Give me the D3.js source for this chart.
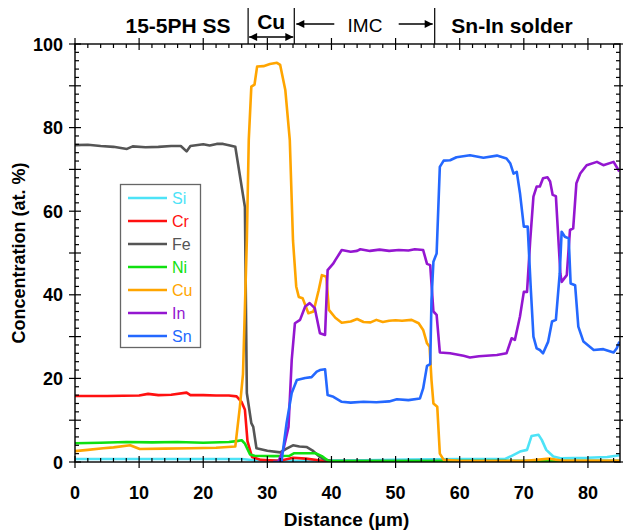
<!DOCTYPE html>
<html>
<head>
<meta charset="utf-8">
<script src="https://cdn.jsdelivr.net/npm/d3@7.9.0/dist/d3.min.js"></script>
<style>
  body { margin: 0; background: #fff; }
  svg { display: block; font-family: "Liberation Sans", Arial, Helvetica, sans-serif; }
</style>
</head>
<body>
<svg id="chart" width="623" height="530"></svg>
<script>
// Concentration profiles: [distance µm, at. %]
const siData = [[0,0.7],[10,0.7],[20,0.7],[26,0.7],[28,0.4],[35,0.3],[45,0.4],[52,0.6],[60,0.7],[67,0.7],[67.9,1.3],[69.4,2.5],[70.5,2.9],[71.2,6.2],[72.3,6.5],[72.8,5.3],[73.5,2.9],[74.6,1.3],[75.7,0.9],[80,1.0],[83,1.2],[85,1.6]];
const crData = [[0,15.8],[5,15.8],[10,15.9],[11.4,16.3],[13,16],[15,16.1],[17.4,16.6],[18,16],[20,16],[22,15.9],[24,15.9],[25.2,15.7],[26,14.3],[26.5,12.5],[26.9,5],[27.6,1.2],[29,0.5],[32,0.3],[34,1],[36,0.8],[38,0.4],[40,0.1],[85,0.1]];
const feData = [[0,75.8],[2,75.9],[4,75.6],[6,75.4],[8.1,74.9],[9,75.5],[11,75.3],[13,75.4],[15,75.6],[16.5,75.6],[17.4,74.3],[18,75.6],[20,76.0],[21,75.7],[22.1,76.1],[23.1,76.1],[24,75.8],[25,75.4],[26.5,61],[26.8,16.5],[27.5,9.3],[27.8,8.4],[28.3,3.3],[30,2.7],[32,2.3],[33,3.2],[34,4],[35,3.7],[36.1,3.6],[37,2.8],[38.2,1.2],[39,0.5],[40,0.3],[45,0.2],[85,0.2]];
const niData = [[0,4.5],[4,4.6],[8,4.8],[12,4.7],[16,4.8],[20,4.6],[24,4.8],[25.2,5.0],[26,5.2],[26.5,4.4],[27.3,1.8],[28,1.5],[31,1.4],[33.5,1.5],[34.2,2.1],[37.5,2.1],[38.5,1.4],[39.5,0.3],[45,0.2],[85,0.2]];
const cuData = [[0,2.6],[2,2.9],[4.4,3.3],[6,3.5],[8.6,4.0],[10.1,3.1],[14,3.2],[18,3.3],[22,3.4],[25,3.7],[25.7,13],[26.2,21],[26.8,53],[27.1,77],[27.5,89.8],[28,90.3],[28.4,94.6],[29.4,94.7],[30.4,95.2],[31.5,95.5],[32,95],[32.8,89],[33.5,77],[34,53],[34.5,42],[34.9,39.5],[35.5,39.2],[36.4,35.6],[37.2,36],[38,41.1],[38.5,44.7],[39.2,44.3],[39.6,36.4],[40.6,34.5],[41.6,33.3],[43,33.6],[44,34.2],[45,33.5],[46.1,33.4],[47,34.0],[48,33.5],[49,33.8],[50,33.9],[51,33.8],[52.5,34],[53.6,33.2],[54.3,31.6],[54.9,28.4],[55.3,27.6],[55.6,19.6],[55.9,14],[56.5,13.2],[56.9,2],[57.5,0.5],[60,0.3],[70,0.2],[72,0.5],[74,0.8],[76,0.3],[85,0.3]];
const inData = [[31.7,0],[32.5,3],[33.3,8.4],[33.8,24.4],[34.3,33.2],[35.1,34],[35.9,37.2],[36.6,38],[37.4,36.8],[38.2,30.8],[39,30.4],[39.4,45.9],[40.3,47.5],[40.6,48.3],[41.6,50.7],[43,50.3],[44,50.5],[44.5,50.9],[46,50.5],[47.5,50.8],[49,50.5],[50.5,50.7],[52,50.6],[53,50.9],[54.3,50.7],[54.9,47.4],[55.4,47.1],[55.9,36],[56.4,35.2],[56.9,26.2],[58.5,26],[60.6,25.4],[61.6,25],[63,25.3],[65.8,25.6],[67.3,26],[68.1,29.6],[68.6,29.2],[69.4,34.8],[70,40.7],[70.5,40.7],[71,53.1],[71.5,63.5],[72,65.9],[72.5,65.9],[73,67.9],[73.7,68.1],[74.1,67.1],[74.5,63.9],[75,63.6],[75.7,45.1],[75.9,43.1],[76.7,44.7],[77.2,55.5],[77.7,55.9],[78.2,66.7],[78.8,69],[79.8,71],[81.4,71.8],[82.4,71],[84,71.8],[84.9,69.5]];
const snData = [[30.9,0],[32.2,0],[33,9.3],[33.8,16.5],[34.6,19.6],[35.9,20.1],[36.9,20.3],[37.7,21.6],[38.2,22],[39,22.2],[39.4,16],[40.3,15.6],[41.6,14.4],[43,14.2],[45,14.4],[47,14.3],[49,14.5],[50.2,15],[52,14.8],[53.8,15.2],[54.3,17.6],[54.9,23],[55.4,23.4],[55.6,38.8],[55.9,47.9],[56.4,49.9],[56.9,70.6],[57.5,72.1],[58.5,72.2],[59.5,72.9],[61.6,73.4],[63.7,72.8],[65.8,73.3],[67.3,72.6],[67.9,71.4],[68.4,69],[68.9,69.4],[69.4,64.3],[70,56.3],[70.6,56.3],[71.1,41.1],[71.5,30],[72,27.2],[72.5,26.8],[73,26],[73.8,28.8],[74.4,33.6],[75,34],[75.6,45.1],[75.9,55.1],[76.4,53.9],[77,53.5],[77.3,42.7],[78,42.3],[78.5,32.4],[79.3,28.8],[80.9,26.8],[82.4,27],[84,26.2],[84.5,27.2],[84.9,28.8]];

const elements = ["Si", "Cr", "Fe", "Ni", "Cu", "In", "Sn"];
const profiles = [siData, crData, feData, niData, cuData, inData, snData];
const colors = ["#4de3f7", "#ff1010", "#555555", "#10e010", "#ffa500", "#9416d0", "#2468ff"];

const xTicks = [0, 10, 20, 30, 40, 50, 60, 70, 80];
const yTicks = [0, 20, 40, 60, 80, 100];

// region boundaries along the top (µm)
const boundaries = [27, 34.2, 56.1];

const svg = d3.select("#chart");
const mLeft = 75, mRight = 620, mTop = 44, mBottom = 462;

const x = d3.scaleLinear().domain([0, 85]).range([mLeft, mRight]);
const y = d3.scaleLinear().domain([0, 100]).range([mBottom, mTop]);

const defs = svg.append("defs");
defs.append("clipPath").attr("id", "plotclip")
  .append("rect").attr("x", mLeft).attr("y", mTop).attr("width", mRight - mLeft).attr("height", mBottom - mTop);

// lines
const line = d3.line().x((d) => x(d[0])).y((d) => y(d[1]));
const plot = svg.append("g").attr("clip-path", "url(#plotclip)");
profiles.forEach((data, i) => {
  plot.append("path")
    .attr("d", line(data))
    .attr("fill", "none")
    .attr("stroke", colors[i])
    .attr("stroke-width", 2.6)
    .attr("stroke-linejoin", "round");
});

// frame
svg.append("rect")
  .attr("x", mLeft).attr("y", mTop).attr("width", mRight - mLeft).attr("height", mBottom - mTop)
  .attr("fill", "none").attr("stroke", "#000").attr("stroke-width", 1.4);

// ticks on all four sides: majors every 10 crossing, minors every 2 inward
const ticks = svg.append("g").attr("stroke", "#000").attr("stroke-width", 1.2);
d3.range(0, 86, 2).forEach((v) => {
  const major = v % 10 === 0;
  const px = x(v);
  ticks.append("line").attr("x1", px).attr("x2", px).attr("y1", mBottom + (major ? 6 : 0)).attr("y2", mBottom - (major ? 6 : 4));
  ticks.append("line").attr("x1", px).attr("x2", px).attr("y1", mTop - (major ? 6 : 0)).attr("y2", mTop + (major ? 6 : 4));
});
d3.range(0, 101, 2).forEach((v) => {
  const major = v % 10 === 0;
  const py = y(v);
  ticks.append("line").attr("y1", py).attr("y2", py).attr("x1", mLeft - (major ? 6 : 0)).attr("x2", mLeft + (major ? 6 : 4));
  ticks.append("line").attr("y1", py).attr("y2", py).attr("x1", mRight + (major ? 6 : 0)).attr("x2", mRight - (major ? 6 : 4));
});

// tick labels
svg.append("g").selectAll("text").data(xTicks).join("text")
  .attr("x", (d) => x(d)).attr("y", mBottom + 37)
  .attr("text-anchor", "middle")
  .attr("font-size", 18).attr("font-weight", "bold")
  .text((d) => d);
svg.append("g").selectAll("text").data(yTicks).join("text")
  .attr("x", mLeft - 12).attr("y", (d) => y(d) + 6.5)
  .attr("text-anchor", "end")
  .attr("font-size", 18).attr("font-weight", "bold")
  .text((d) => d);

// axis titles
svg.append("text")
  .attr("x", (mLeft + mRight) / 2 - 1).attr("y", 526)
  .attr("text-anchor", "middle").attr("font-size", 19).attr("font-weight", "bold")
  .text("Distance (μm)");
svg.append("text")
  .attr("transform", `translate(25,${(mTop + mBottom) / 2}) rotate(-90)`)
  .attr("text-anchor", "middle").attr("font-size", 18).attr("font-weight", "bold")
  .text("Concentration (at. %)");

// header: region separators, arrows and names
defs.append("marker").attr("id", "head")
  .attr("viewBox", "0 0 10 10").attr("refX", 10).attr("refY", 5)
  .attr("markerWidth", 10).attr("markerHeight", 8).attr("markerUnits", "userSpaceOnUse")
  .attr("orient", "auto-start-reverse")
  .append("path").attr("d", "M0,0 L10,5 L0,10 Z").attr("fill", "#000");

const header = svg.append("g");
boundaries.forEach((b) => {
  header.append("line").attr("x1", x(b)).attr("x2", x(b)).attr("y1", 8).attr("y2", mTop)
    .attr("stroke", "#000").attr("stroke-width", 1.2);
});
header.append("line")
  .attr("x1", x(boundaries[0]) + 1).attr("x2", x(boundaries[1]) - 1).attr("y1", 37).attr("y2", 37)
  .attr("stroke", "#000").attr("stroke-width", 1.4)
  .attr("marker-start", "url(#head)").attr("marker-end", "url(#head)");
header.append("line")
  .attr("x1", x(boundaries[1]) + 2).attr("x2", x(boundaries[1]) + 40).attr("y1", 24).attr("y2", 24)
  .attr("stroke", "#000").attr("stroke-width", 1.4).attr("marker-start", "url(#head)");
header.append("line")
  .attr("x1", x(boundaries[2]) - 36).attr("x2", x(boundaries[2]) - 2).attr("y1", 24).attr("y2", 24)
  .attr("stroke", "#000").attr("stroke-width", 1.4).attr("marker-end", "url(#head)");

const regions = [
  { text: "15-5PH SS", cx: 178, base: 33, bold: true },
  { text: "Cu", cx: (x(boundaries[0]) + x(boundaries[1])) / 2, base: 29, bold: true },
  { text: "IMC", cx: 365, base: 32, bold: false },
  { text: "Sn-In solder", cx: 512, base: 33, bold: true }
];
header.selectAll("text.region").data(regions).join("text")
  .attr("class", "region")
  .attr("x", (d) => d.cx).attr("y", (d) => d.base)
  .attr("text-anchor", "middle")
  .attr("font-size", (d) => (d.bold ? 21 : 19))
  .attr("font-weight", (d) => (d.bold ? "bold" : "normal"))
  .text((d) => d.text);

// legend
const legend = svg.append("g");
legend.append("rect")
  .attr("x", 120.5).attr("y", 184.5).attr("width", 80).attr("height", 163)
  .attr("fill", "#fff").attr("stroke", "#666").attr("stroke-width", 1.3);
elements.forEach((name, i) => {
  const ly = 198 + i * 23;
  legend.append("line").attr("x1", 128).attr("x2", 167).attr("y1", ly).attr("y2", ly)
    .attr("stroke", colors[i]).attr("stroke-width", 2.6);
  legend.append("text").attr("x", 172).attr("y", ly + 5.5)
    .attr("font-size", 16).attr("fill", colors[i])
    .text(name);
});
</script>
</body>
</html>
